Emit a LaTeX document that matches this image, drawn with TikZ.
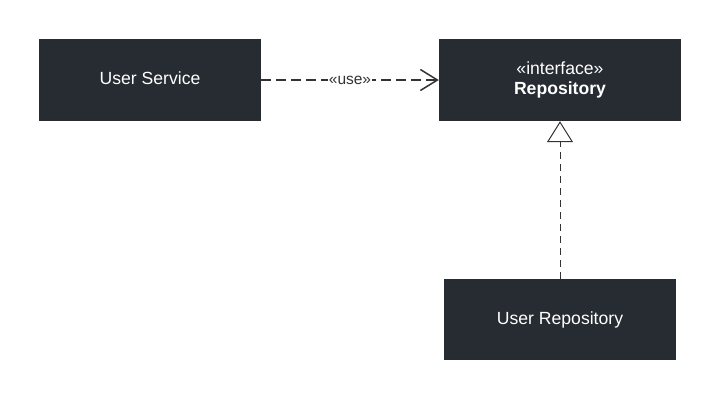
\documentclass[tikz,border=0pt]{standalone}
\usepackage{fontspec}
\setmainfont{Liberation Sans}
\usetikzlibrary{arrows.meta}
\definecolor{boxdark}{HTML}{272C33}
\definecolor{linedark}{HTML}{333333}
\begin{document}
\begin{tikzpicture}[x=1pt,y=1pt,
  classbox/.style={fill=boxdark,draw=none,text=white,inner sep=0pt,align=center,
    font=\fontsize{17.6}{19.4}\selectfont},
  oneline/.style={text height=13pt,text depth=4pt},
  usedash/.style={draw=linedark,line width=1.8pt,dash pattern=on 10pt off 5pt,
    -{Straight Barb[length=17pt,width=21pt,line width=1.5pt]}},
  realize/.style={draw=linedark,line width=1pt,dash pattern=on 7pt off 5pt,
    -{Triangle[open,length=21pt,width=26pt,line width=1pt,fill=white]}},
  lbl/.style={fill=white,text=linedark,inner sep=1pt,font=\fontsize{15.5}{17}\selectfont}
]
\useasboundingbox[fill=white] (0,0) rectangle (720,-400);
\node[classbox,oneline,minimum width=222pt,minimum height=82pt] (svc) at (150,-80) {User Service};
\node[classbox,minimum width=242pt,minimum height=82pt] (repo) at (560,-80) {«interface»\\\textbf{Repository}};
\node[classbox,oneline,minimum width=232pt,minimum height=81pt] (urepo) at (560,-319.5) {User Repository};
\draw[usedash] (svc.east) -- node[lbl] {«use»} (repo.west);
\draw[realize] (urepo.north) -- (repo.south);
\end{tikzpicture}
\end{document}
